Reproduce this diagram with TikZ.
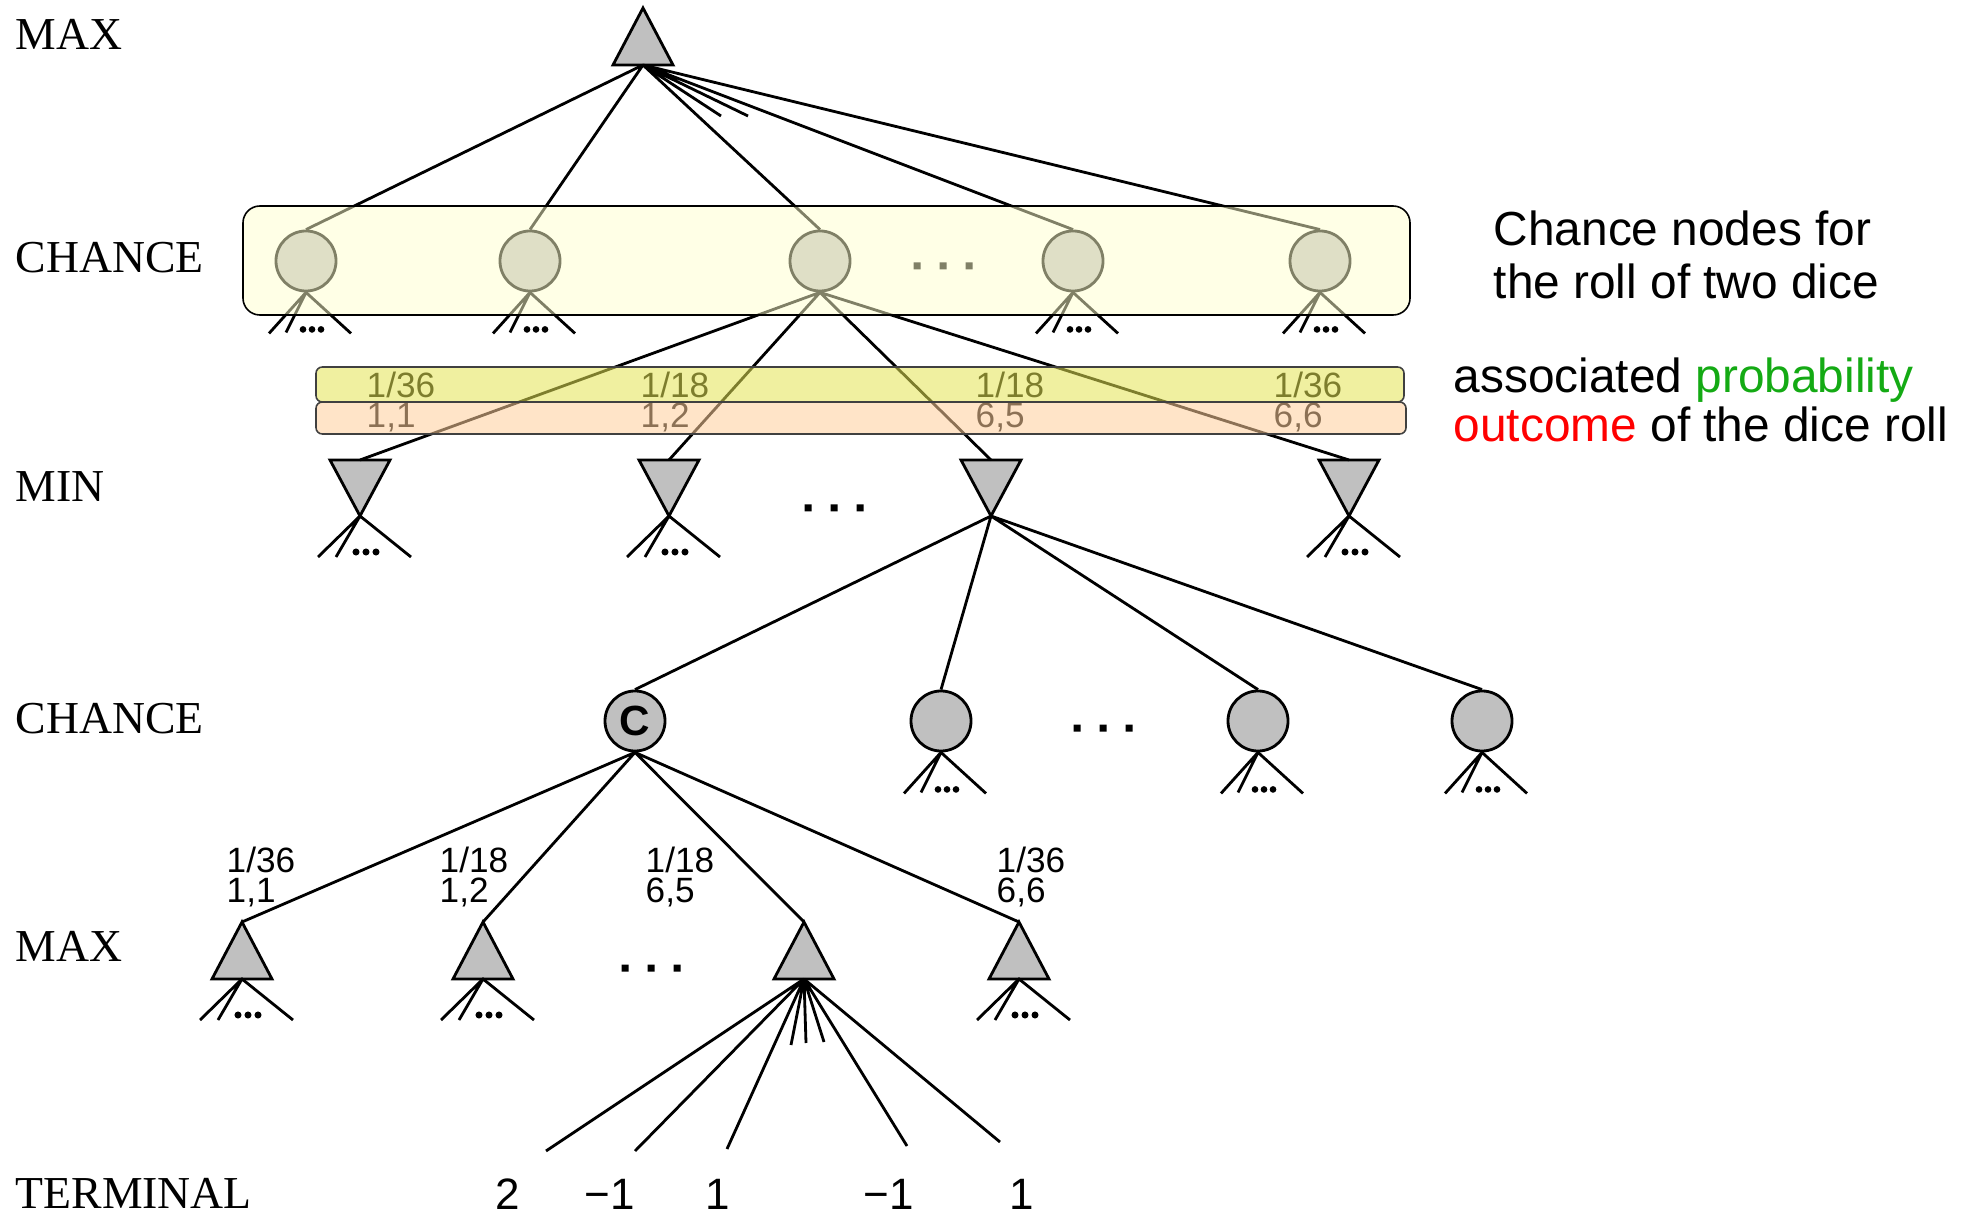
\documentclass[tikz,border=0pt]{standalone}
\usepackage{fontspec}
\setmainfont{Liberation Serif}
\newfontfamily\sansf{Liberation Sans}
\definecolor{nodegray}{RGB}{192,192,192}
\definecolor{boxyellow}{RGB}{255,255,205}
\definecolor{probyellow}{RGB}{228,228,82}
\definecolor{outpeach}{RGB}{255,206,155}
\definecolor{probgreen}{RGB}{20,170,20}
\definecolor{outred}{RGB}{255,0,0}
\tikzset{
  edge/.style={line width=0.8pt},
  nodeshape/.style={draw=black, fill=nodegray, line width=0.8pt},
  chance/.style={circle, nodeshape, minimum size=0.6cm, inner sep=0pt},
  level/.style={anchor=base west, inner sep=0pt, font=\fontsize{13}{13}\selectfont},
  prob/.style={anchor=base west, inner sep=0pt, font=\sansf\fontsize{10}{10}\selectfont},
  term/.style={anchor=base, inner sep=0pt, font=\sansf\fontsize{12.5}{12.5}\selectfont},
  note/.style={anchor=base west, inner sep=0pt, font=\sansf\fontsize{13.6}{13.6}\selectfont},
  maxtri/.pic={
    \draw[nodeshape] (0,0) -- (30,57) -- (-30,57) -- cycle;
    \coordinate (-top) at (0,0);
    \coordinate (-bot) at (0,57);
  },
  mintri/.pic={
    \draw[nodeshape] (-30,0) -- (30,0) -- (0,56) -- cycle;
    \coordinate (-top) at (0,0);
    \coordinate (-bot) at (0,56);
  },
  fantri/.pic={
    \draw[edge] (-42,41) -- (0,0) -- (51,41) (0,0) -- (-24,41);
    \fill (-4,36) circle[radius=1pt] (6,36) circle[radius=1pt] (16,36) circle[radius=1pt];
  },
  fancirc/.pic={
    \draw[edge] (-37,41) -- (0,0) -- (45,41) (0,0) -- (-20,40);
    \fill (-3,37) circle[radius=0.95pt] (6,37) circle[radius=0.95pt] (15,37) circle[radius=0.95pt];
  },
  bigdots/.pic={
    \fill (-29.5,-3.5) rectangle (-22.5,3.5) (-3.5,-3.5) rectangle (3.5,3.5) (22.5,-3.5) rectangle (29.5,3.5);
  }
}
\begin{document}
\begin{tikzpicture}[x=0.01cm,y=-0.01cm]
\useasboundingbox (0,0) rectangle (1967,1213);

% level labels
\node[level] (lab1) at (15,50) {MAX};
\node[level] (lab2) at (15,273) {CHANCE};
\node[level] (lab3) at (15,502) {MIN};
\node[level] (lab4) at (15,733) {CHANCE};
\node[level] (lab5) at (15,961) {MAX};
\node[level] (lab6) at (15,1208) {TERMINAL};

% top MAX
\pic (mx) at (643,8) {maxtri};

% chance row 1
\node[chance] (c1) at (306,261) {};
\node[chance] (c2) at (530,261) {};
\node[chance] (c3) at (820,261) {};
\node[chance] (c4) at (1073,261) {};
\node[chance] (c5) at (1320,261) {};
\coordinate (s1) at (721,116);
\coordinate (s2) at (748,116);
\draw[edge] (mx-bot) -- (c1.north) (mx-bot) -- (c2.north) (mx-bot) -- (c3.north)
  (mx-bot) -- (s1) (mx-bot) -- (s2) (mx-bot) -- (c4.north) (mx-bot) -- (c5.north);
\pic at (c1.south) {fancirc};
\pic at (c2.south) {fancirc};
\pic at (c4.south) {fancirc};
\pic at (c5.south) {fancirc};
\pic at (943,266) {bigdots};

% MIN row
\pic (n1) at (360,460) {mintri};
\pic (n2) at (669,460) {mintri};
\pic (n3) at (991,460) {mintri};
\pic (n4) at (1349,460) {mintri};
\draw[edge] (c3.south) -- (n1-top) (c3.south) -- (n2-top) (c3.south) -- (n3-top) (c3.south) -- (n4-top);
\pic at (n1-bot) {fantri};
\pic at (n2-bot) {fantri};
\pic at (n4-bot) {fantri};
\pic at (834,508) {bigdots};

% chance row 2
\node[chance] (d1) at (635,721) {\sansf\bfseries\fontsize{12}{12}\selectfont C};
\node[chance] (d2) at (941,721) {};
\node[chance] (d3) at (1258,721) {};
\node[chance] (d4) at (1482,721) {};
\draw[edge] (n3-bot) -- (d1.north) (n3-bot) -- (d2.north) (n3-bot) -- (d3.north) (n3-bot) -- (d4.north);
\pic at (d2.south) {fancirc};
\pic at (d3.south) {fancirc};
\pic at (d4.south) {fancirc};
\pic at (1103,728) {bigdots};

% MAX row
\pic (b1) at (242,922) {maxtri};
\pic (b2) at (483,922) {maxtri};
\pic (b3) at (804,922) {maxtri};
\pic (b4) at (1019,922) {maxtri};
\draw[edge] (d1.south) -- (b1-top) (d1.south) -- (b2-top) (d1.south) -- (b3-top) (d1.south) -- (b4-top);
\pic at (b1-bot) {fantri};
\pic at (b2-bot) {fantri};
\pic at (b4-bot) {fantri};
\pic at (651,968) {bigdots};

% edge labels
\node[prob] (pl1a) at (226,872) {1/36};
\node[prob] (pl1b) at (226,902) {1,1};
\node[prob] (pl2a) at (439,872) {1/18};
\node[prob] (pl2b) at (439,902) {1,2};
\node[prob] (pl3a) at (645,872) {1/18};
\node[prob] (pl3b) at (645,902) {6,5};
\node[prob] (pl4a) at (996,872) {1/36};
\node[prob] (pl4b) at (996,902) {6,6};

% terminal fan
\coordinate (t1) at (546,1151);
\coordinate (t2) at (635,1151);
\coordinate (t3) at (727,1149);
\coordinate (t4) at (907,1146);
\coordinate (t5) at (1000,1142);
\coordinate (u1) at (791,1045);
\coordinate (u2) at (806,1043);
\coordinate (u3) at (824,1042);
\draw[edge] (b3-bot) -- (t1) (b3-bot) -- (t2) (b3-bot) -- (t3) (b3-bot) -- (t4) (b3-bot) -- (t5)
  (b3-bot) -- (u1) (b3-bot) -- (u2) (b3-bot) -- (u3);
\node[term] (v1) at (508,1209) {2};
\node[term] (v2) at (610,1209) {−1};
\node[term] (v3) at (718,1209) {1};
\node[term] (v4) at (889,1209) {−1};
\node[term] (v5) at (1022,1209) {1};

% probability / outcome texts (under the bars)
\node[prob] (q1) at (366,398) {1/36};
\node[prob] (q2) at (640,398) {1/18};
\node[prob] (q3) at (975,398) {1/18};
\node[prob] (q4) at (1273,398) {1/36};
\node[prob] (o1) at (366,428) {1,1};
\node[prob] (o2) at (640,428) {1,2};
\node[prob] (o3) at (975,428) {6,5};
\node[prob] (o4) at (1273,428) {6,6};

% translucent overlays
\fill[boxyellow, fill opacity=0.5, rounded corners=4.8pt] (243,206) rectangle (1410,315);
\draw[line width=0.45pt, rounded corners=4.8pt] (243,206) rectangle (1410,315);
\fill[probyellow, fill opacity=0.55, rounded corners=1.8pt] (316,367) rectangle (1404,402);
\draw[black!75, line width=0.45pt, rounded corners=1.8pt] (316,367) rectangle (1404,402);
\fill[outpeach, fill opacity=0.55, rounded corners=1.8pt] (316,402) rectangle (1406,434);
\draw[black!75, line width=0.45pt, rounded corners=1.8pt] (316,402) rectangle (1406,434);

% notes on the right
\node[note] (r1) at (1493,246) {Chance nodes for};
\node[note] (r2) at (1493,299) {the roll of two dice};
\node[note] (r3) at (1453,393) {associated \textcolor{probgreen}{probability}};
\node[note] (r4) at (1453,442) {\textcolor{outred}{outcome} of the dice roll};
\end{tikzpicture}
\end{document}
